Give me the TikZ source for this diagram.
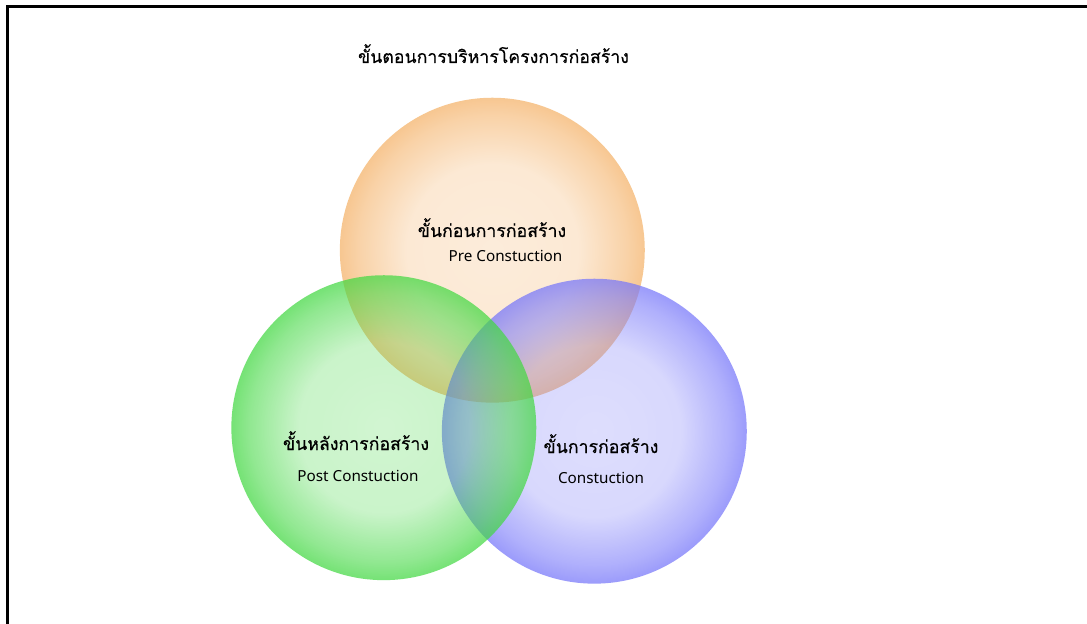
\documentclass[tikz,border=0pt]{standalone}
\usepackage{fontspec}
\setmainfont{Noto Sans}
\newfontfamily\thaifont[Script=Thai,FakeBold=0.4]{Loma}
\usetikzlibrary{fadings}

\definecolor{orbase}{RGB}{245,178,104}
\definecolor{grbase}{RGB}{66,216,66}
\definecolor{blbase}{RGB}{118,118,250}

% balls: see-through in the middle, nearly solid at the rim
% (the fitted fading puts the ball rim at about 35.4bp)
\pgfdeclareradialshading{ballmask}{\pgfpoint{0bp}{0bp}}{%
  color(0bp)=(pgftransparent!76);
  color(14bp)=(pgftransparent!72);
  color(22bp)=(pgftransparent!42);
  color(28bp)=(pgftransparent!12);
  color(35.4bp)=(pgftransparent!5);
  color(100bp)=(pgftransparent!5)}
\pgfdeclarefading{ballfade}{\pgfuseshading{ballmask}}

\tikzset{
  ball/.style={path fading=ballfade, fit fading=true},
  thlabel/.style={font=\thaifont\fontsize{17.8}{21}\selectfont, inner sep=0pt, anchor=base},
  enlabel/.style={font=\fontsize{15.3}{18}\selectfont, inner sep=0pt, anchor=base},
}

\begin{document}
\begin{tikzpicture}[x=1bp, y=-1bp]
  \useasboundingbox (0,0) rectangle (1087,624);
  \fill[white] (0,0) rectangle (1087,624);
  \begin{scope}
    \clip (0,0) rectangle (1087,624);
    \draw[line width=2.6bp] (7.5,660) -- (7.5,6.8) -- (1100,6.8);
  \end{scope}

  % circles: orange at the back, then blue, then green
  \fill[orbase, ball] (492.5,250) circle[radius=152.5];
  \fill[blbase, ball] (594.5,431) circle[radius=152.5];
  \fill[grbase, ball] (384,427.5) circle[radius=152.5];

  \node[thlabel] (title) at (493.5,63) {ขั้นตอนการบริหารโครงการก่อสร้าง};

  \node[thlabel] (preth) at (492,237) {ขั้นก่อนการก่อสร้าง};
  \node[enlabel] (preen) at (505.5,262) {Pre Constuction};

  \node[thlabel] (postth) at (356,450) {ขั้นหลังการก่อสร้าง};
  \node[enlabel] (posten) at (358,481) {Post Constuction};

  \node[thlabel] (conth) at (601,453) {ขั้นการก่อสร้าง};
  \node[enlabel] (conen) at (601,483) {Constuction};
\end{tikzpicture}
\end{document}
